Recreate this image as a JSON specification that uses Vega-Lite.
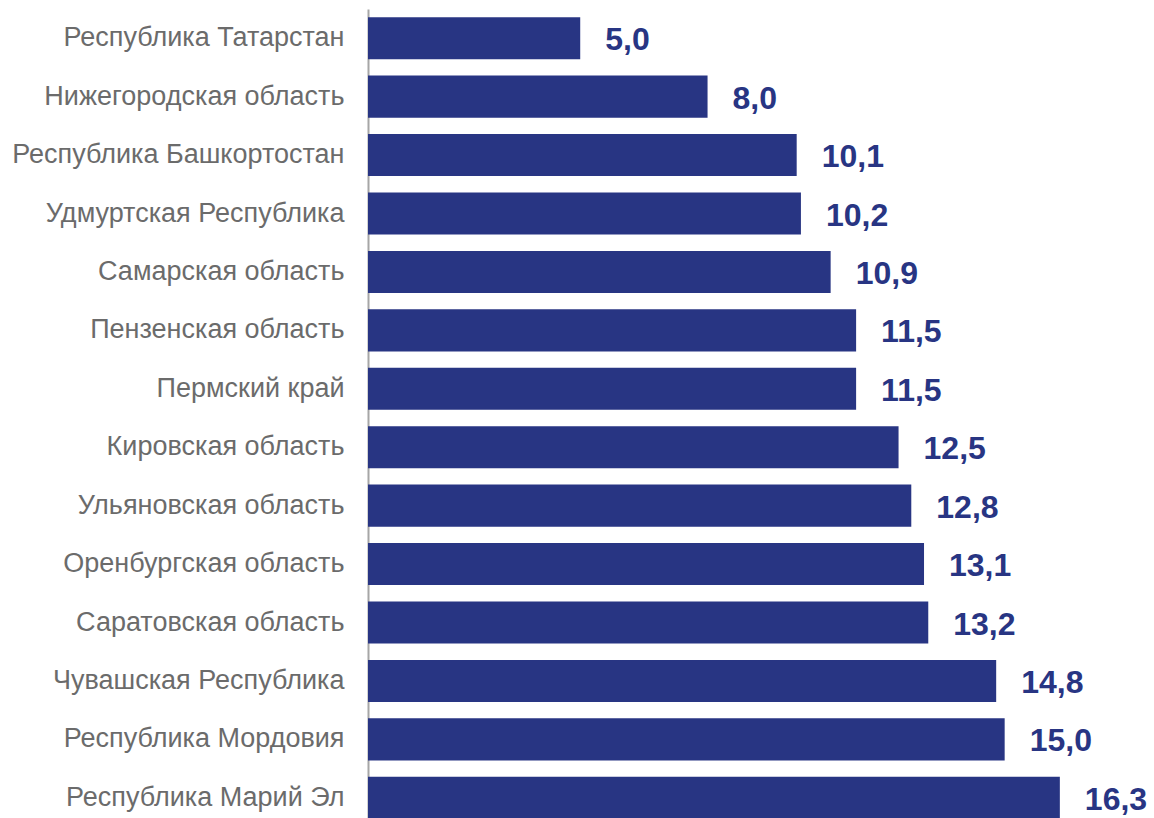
{
  "$schema": "https://vega.github.io/schema/vega-lite/v6.json",
  "width": 764,
  "height": 818,
  "autosize": "none",
  "padding": {"left": 368, "top": 9, "right": 22, "bottom": 0},
  "background": "white",
  "config": {
    "view": {"stroke": null},
    "locale": {"number": {"decimal": ",", "thousands": " ", "grouping": [3], "currency": ["", ""]}}
  },
  "data": {"values": [
    {"region": "Республика Татарстан", "value": 5.0},
    {"region": "Нижегородская область", "value": 8.0},
    {"region": "Республика Башкортостан", "value": 10.1},
    {"region": "Удмуртская Республика", "value": 10.2},
    {"region": "Самарская область", "value": 10.9},
    {"region": "Пензенская область", "value": 11.5},
    {"region": "Пермский край", "value": 11.5},
    {"region": "Кировская область", "value": 12.5},
    {"region": "Ульяновская область", "value": 12.8},
    {"region": "Оренбургская область", "value": 13.1},
    {"region": "Саратовская область", "value": 13.2},
    {"region": "Чувашская Республика", "value": 14.8},
    {"region": "Республика Мордовия", "value": 15.0},
    {"region": "Республика Марий Эл", "value": 16.3}
  ]},
  "encoding": {
    "y": {
      "field": "region", "type": "nominal", "sort": null,
      "scale": {"paddingInner": 0.28, "paddingOuter": 0.14},
      "axis": {
        "title": null, "ticks": false, "domain": true, "domainColor": "#a6a6a6", "domainWidth": 2,
        "labelFont": "Liberation Sans", "labelFontSize": 27, "labelColor": "#6b6b6b",
        "labelPadding": 24, "labelLimit": 400
      }
    },
    "x": {
      "field": "value", "type": "quantitative",
      "scale": {"domain": [0, 18], "nice": false},
      "axis": null
    }
  },
  "layer": [
    {"mark": {"type": "bar", "color": "#283583"}},
    {
      "mark": {"type": "text", "align": "left", "dx": 25, "dy": 2, "font": "Liberation Sans", "fontWeight": "bold", "fontSize": 32, "color": "#283583"},
      "encoding": {"text": {"field": "value", "type": "quantitative", "format": ".1f"}}
    }
  ]
}
